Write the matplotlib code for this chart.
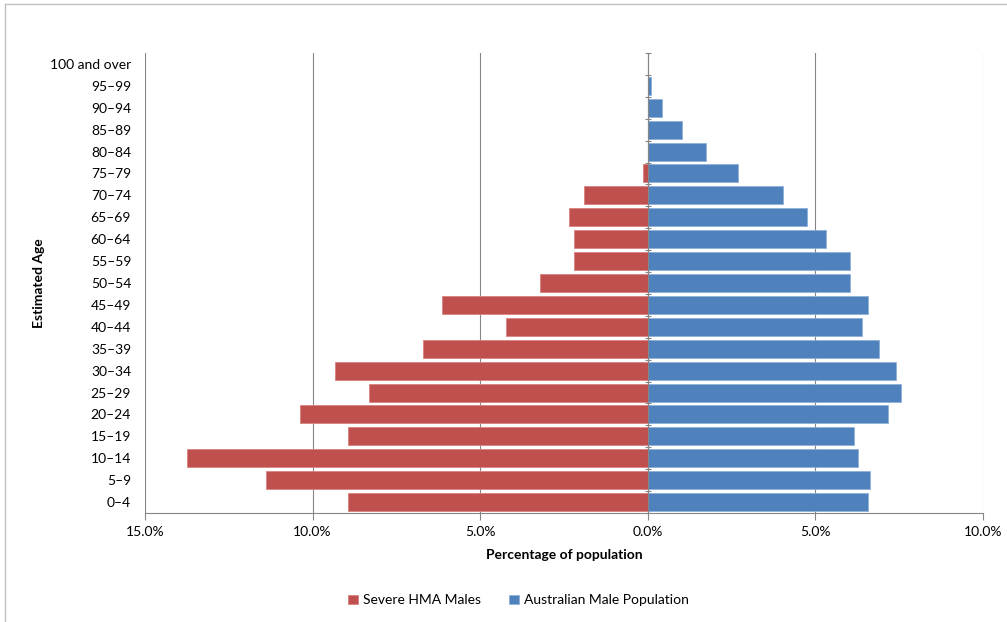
import matplotlib
matplotlib.use("Agg")
import matplotlib.pyplot as plt
from matplotlib.lines import Line2D
from matplotlib.ticker import FuncFormatter
import numpy as np

plt.rcParams['font.family'] = ['Lato', 'DejaVu Sans']

age_groups = ["0–4", "5–9", "10–14", "15–19", "20–24", "25–29", "30–34", "35–39",
              "40–44", "45–49", "50–54", "55–59", "60–64", "65–69", "70–74", "75–79",
              "80–84", "85–89", "90–94", "95–99", "100 and over"]
severe_hma_males = [8.93, 11.40, 13.76, 8.93, 10.39, 8.33, 9.34, 6.72, 4.24, 6.15,
                    3.22, 2.21, 2.21, 2.36, 1.91, 0.15, 0.0, 0.0, 0.0, 0.0, 0.0]
australian_males = [6.56, 6.63, 6.27, 6.15, 7.16, 7.55, 7.40, 6.90, 6.39, 6.57,
                    6.03, 6.03, 5.31, 4.75, 4.02, 2.69, 1.73, 1.01, 0.42, 0.09, 0.0]
x_ticks = [-15, -10, -5, 0, 5, 10]

red = "#C0504D"
blue = "#4F81BD"
grid_c = "#868686"

fig = plt.figure(figsize=(10.07, 6.22), dpi=100)
ax = fig.add_axes([145/1007, 1-513/622, (983-145)/1007, (513-53)/622])

y = np.arange(len(age_groups))
ax.barh(y, -np.array(severe_hma_males), height=0.82, color=red,
        edgecolor="#D9837F", linewidth=0.6, label="Severe HMA Males", zorder=2)
ax.barh(y, australian_males, height=0.82, color=blue,
        edgecolor="#8FB0DA", linewidth=0.6, label="Australian Male Population", zorder=2)

ax.set_xlim(-15, 10)
ax.set_ylim(-0.5, len(age_groups) - 0.5)
ax.set_xticks(x_ticks)
ax.xaxis.set_major_formatter(FuncFormatter(lambda v, p: f"{abs(v):.1f}%"))
ax.set_yticks(y)
ax.set_yticklabels(age_groups)
ax.tick_params(axis='y', length=0, pad=10, labelsize=10)
ax.tick_params(axis='x', length=5, direction='out', color=grid_c, labelsize=10, pad=4)

ax.set_axisbelow(True)
ax.grid(axis='x', color=grid_c, linewidth=0.8)
ax.grid(axis='y', visible=False)
for s in ['top', 'right', 'left']:
    ax.spines[s].set_visible(False)
ax.spines['bottom'].set_color(grid_c)
ax.spines['bottom'].set_linewidth(0.8)

# vertical axis at zero with tick marks at category boundaries
ax.axvline(0, color=grid_c, linewidth=0.8, zorder=3)
sec = ax.secondary_yaxis(15/25)
for sp in sec.spines.values():
    sp.set_visible(False)
sec.set_yticks(np.arange(-0.5, len(age_groups), 1.0))
sec.set_yticklabels([])
sec.tick_params(axis='y', direction='inout', length=5, color=grid_c, width=0.8)
sec.set_zorder(3)

ax.set_xlabel("Percentage of population", fontweight='bold', fontsize=10, labelpad=8)
ax.set_ylabel("Estimated Age", fontweight='bold', fontsize=10)
ax.yaxis.set_label_coords(-100/838, 0.5)

fig.legend(loc='lower center', bbox_to_anchor=(0.515, 0.005), ncol=2, frameon=False,
           handlelength=0.7, handleheight=0.7, handletextpad=0.4, columnspacing=2.0,
           fontsize=10)

# outer chart border (left and top visible)
fig.add_artist(Line2D([5/1007, 5/1007], [0, 1-4/622], transform=fig.transFigure,
                      color="#BFBFBF", linewidth=1))
fig.add_artist(Line2D([5/1007, 1], [1-4/622, 1-4/622], transform=fig.transFigure,
                      color="#BFBFBF", linewidth=1))

fig.savefig("out.png", dpi=100)
